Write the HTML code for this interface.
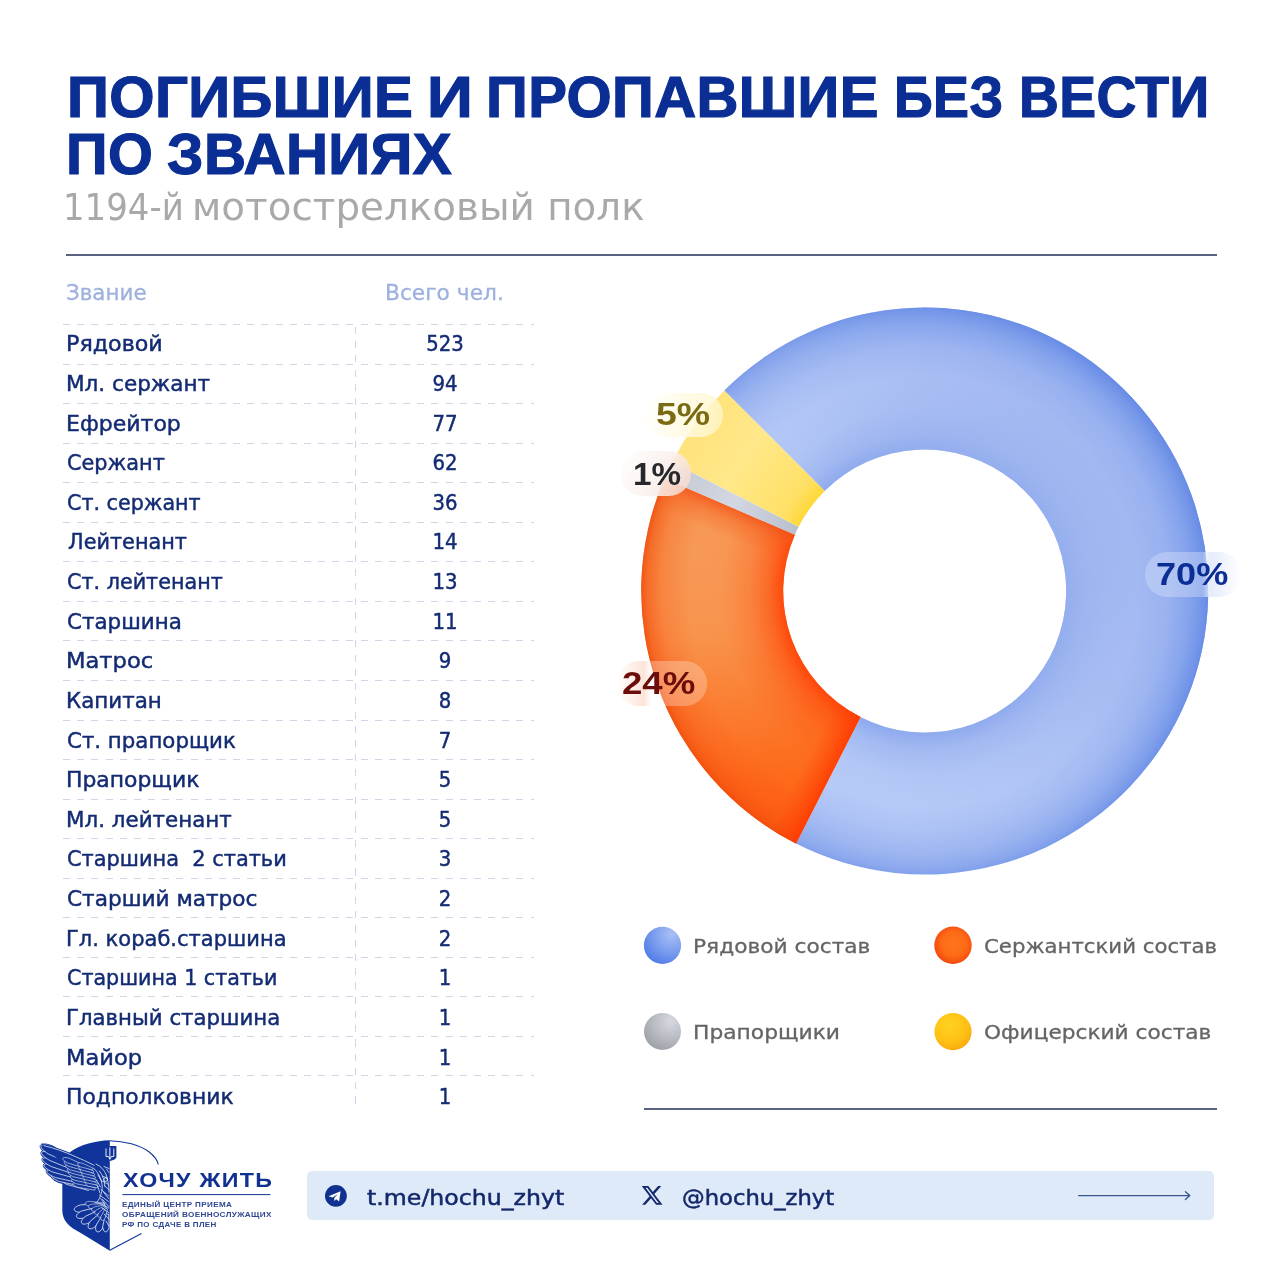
<!DOCTYPE html>
<html lang="ru"><head><meta charset="utf-8"><title>Погибшие и пропавшие без вести по званиях</title>
<style>
html,body{margin:0;padding:0;background:#fff}
h1,p{margin:0;padding:0;font-size:0;line-height:0;font-weight:normal}
body{width:1280px;height:1280px;position:relative;overflow:hidden;font-family:"Liberation Sans",sans-serif}
.t{position:absolute;white-space:nowrap;line-height:1;transform-origin:0 100%}
.dj{font-family:"DejaVu Sans","Liberation Sans",sans-serif}
.title{font-weight:bold;color:#0a2e93;font-size:57px;letter-spacing:0.4px;-webkit-text-stroke:1.2px #0a2e93}
.sub{color:#a9a9a9;font-size:37.6px;font-family:"DejaVu Sans","Liberation Sans",sans-serif;font-weight:normal}
.hr{position:absolute;height:1.7px;background:#5a6382}
.th{color:#9db1de;font-size:20.8px;-webkit-text-stroke:.3px #9db1de}
.rk,.nm{color:#132b73;font-size:21.3px;-webkit-text-stroke:.45px #132b73}
.nm{text-align:center;width:100px;transform-origin:50% 100%}
.dl{position:absolute;left:62.7px;width:471.5px;height:1px;background:repeating-linear-gradient(90deg,#cdd5e6 0,#cdd5e6 7px,transparent 7px,transparent 14.17px)}
.vl{position:absolute;left:355px;top:327px;height:783px;width:1px;background:repeating-linear-gradient(180deg,#cdd5e6 0,#cdd5e6 7px,transparent 7px,transparent 14.25px)}

.pill{position:absolute;border-radius:22px}
.pc{font-weight:bold;letter-spacing:0}
.lg{color:#646464;font-size:19.9px;-webkit-text-stroke:.3px #646464}

.bar{position:absolute;left:306.5px;top:1171.2px;width:907.8px;height:49.3px;border-radius:5px;background:#dfeaf8}
.brand{font-weight:bold;color:#10318f}
.tag{font-weight:bold;color:#2f4793;letter-spacing:.35px}
.soc{color:#14296b;-webkit-text-stroke:.5px #14296b}
</style></head>
<body>
<h1><span class="t title" style="left:66.94px;top:68.68px;transform:scaleX(1.0210)">ПОГИБШИЕ</span> <span class="t title" style="left:426.66px;top:68.68px;transform:scaleX(1.1181)">И</span> <span class="t title" style="left:485.95px;top:68.68px;transform:scaleX(1.0185)">ПРОПАВШИЕ</span> <span class="t title" style="left:894.38px;top:68.68px;transform:scaleX(0.9449)">БЕЗ</span> <span class="t title" style="left:1018.96px;top:68.68px;transform:scaleX(0.9685)">ВЕСТИ</span> <span class="t title" style="left:65.97px;top:126.38px;transform:scaleX(1.0124)">ПО</span> <span class="t title" style="left:167.0px;top:126.38px;transform:scaleX(1.0215)">ЗВАНИЯХ</span></h1>
<p><span class="t sub" style="left:62.83px;top:188.79px;transform:scaleX(0.9033)">1194-й</span> <span class="t sub" style="left:192.37px;top:188.79px;transform:scaleX(1.0336)">мотострелковый полк</span></p>
<div class="hr" style="left:66px;top:254px;width:1151px"></div>
<div class="t th dj" style="left:66.09px;top:283.40px;transform:scaleX(1.0306)">Звание</div>
<div class="t th dj" style="left:384.95px;top:283.40px;transform:scaleX(1.0444)">Всего чел.</div>
<div class="dl" style="top:324px"></div>
<div class="t rk dj" style="left:65.9px;top:333.28px;transform:scaleX(1.0420)">Рядовой</div>
<div class="t nm dj" style="left:394.9px;top:333.28px;transform:scaleX(0.925)">523</div>
<div class="dl" style="top:364px"></div>
<div class="t rk dj" style="left:65.92px;top:372.91px;transform:scaleX(1.0113)">Мл. сержант</div>
<div class="t nm dj" style="left:394.9px;top:372.91px;transform:scaleX(0.925)">94</div>
<div class="dl" style="top:403px"></div>
<div class="t rk dj" style="left:65.9px;top:412.54px;transform:scaleX(1.0339)">Ефрейтор</div>
<div class="t nm dj" style="left:394.9px;top:412.54px;transform:scaleX(0.925)">77</div>
<div class="dl" style="top:443px"></div>
<div class="t rk dj" style="left:66.9px;top:452.17px;transform:scaleX(0.9780)">Сержант</div>
<div class="t nm dj" style="left:394.9px;top:452.17px;transform:scaleX(0.925)">62</div>
<div class="dl" style="top:482px"></div>
<div class="t rk dj" style="left:66.83px;top:491.80px;transform:scaleX(0.9704)">Ст. сержант</div>
<div class="t nm dj" style="left:394.9px;top:491.80px;transform:scaleX(0.925)">36</div>
<div class="dl" style="top:522px"></div>
<div class="t rk dj" style="left:67.81px;top:531.43px;transform:scaleX(0.9771)">Лейтенант</div>
<div class="t nm dj" style="left:394.9px;top:531.43px;transform:scaleX(0.925)">14</div>
<div class="dl" style="top:561px"></div>
<div class="t rk dj" style="left:66.88px;top:571.06px;transform:scaleX(0.9722)">Ст. лейтенант</div>
<div class="t nm dj" style="left:394.9px;top:571.06px;transform:scaleX(0.925)">13</div>
<div class="dl" style="top:601px"></div>
<div class="t rk dj" style="left:66.92px;top:610.69px;transform:scaleX(1.0059)">Старшина</div>
<div class="t nm dj" style="left:394.9px;top:610.69px;transform:scaleX(0.925)">11</div>
<div class="dl" style="top:640px"></div>
<div class="t rk dj" style="left:65.85px;top:650.32px;transform:scaleX(1.0618)">Матрос</div>
<div class="t nm dj" style="left:394.9px;top:650.32px;transform:scaleX(0.925)">9</div>
<div class="dl" style="top:680px"></div>
<div class="t rk dj" style="left:65.96px;top:689.95px;transform:scaleX(1.0047)">Капитан</div>
<div class="t nm dj" style="left:394.9px;top:689.95px;transform:scaleX(0.925)">8</div>
<div class="dl" style="top:720px"></div>
<div class="t rk dj" style="left:66.87px;top:729.58px;transform:scaleX(1.0014)">Ст. прапорщик</div>
<div class="t nm dj" style="left:394.9px;top:729.58px;transform:scaleX(0.925)">7</div>
<div class="dl" style="top:759px"></div>
<div class="t rk dj" style="left:65.89px;top:769.21px;transform:scaleX(1.0279)">Прапорщик</div>
<div class="t nm dj" style="left:394.9px;top:769.21px;transform:scaleX(0.925)">5</div>
<div class="dl" style="top:799px"></div>
<div class="t rk dj" style="left:65.93px;top:808.84px;transform:scaleX(1.0055)">Мл. лейтенант</div>
<div class="t nm dj" style="left:394.9px;top:808.84px;transform:scaleX(0.925)">5</div>
<div class="dl" style="top:838px"></div>
<div class="t rk dj" style="left:66.88px;top:848.47px;transform:scaleX(0.9812)">Старшина&nbsp; 2 статьи</div>
<div class="t nm dj" style="left:394.9px;top:848.47px;transform:scaleX(0.925)">3</div>
<div class="dl" style="top:878px"></div>
<div class="t rk dj" style="left:66.88px;top:888.10px;transform:scaleX(1.0153)">Старший матрос</div>
<div class="t nm dj" style="left:394.9px;top:888.10px;transform:scaleX(0.925)">2</div>
<div class="dl" style="top:917px"></div>
<div class="t rk dj" style="left:65.91px;top:927.73px;transform:scaleX(0.9868)">Гл. кораб.старшина</div>
<div class="t nm dj" style="left:394.9px;top:927.73px;transform:scaleX(0.925)">2</div>
<div class="dl" style="top:957px"></div>
<div class="t rk dj" style="left:66.88px;top:967.36px;transform:scaleX(0.9689)">Старшина 1 статьи</div>
<div class="t nm dj" style="left:394.9px;top:967.36px;transform:scaleX(0.925)">1</div>
<div class="dl" style="top:996px"></div>
<div class="t rk dj" style="left:65.88px;top:1006.99px;transform:scaleX(0.9984)">Главный старшина</div>
<div class="t nm dj" style="left:394.9px;top:1006.99px;transform:scaleX(0.925)">1</div>
<div class="dl" style="top:1036px"></div>
<div class="t rk dj" style="left:66.02px;top:1046.62px;transform:scaleX(1.0583)">Майор</div>
<div class="t nm dj" style="left:394.9px;top:1046.62px;transform:scaleX(0.925)">1</div>
<div class="dl" style="top:1075px"></div>
<div class="t rk dj" style="left:66.0px;top:1086.25px;transform:scaleX(1.0256)">Подполковник</div>
<div class="t nm dj" style="left:394.9px;top:1086.25px;transform:scaleX(0.925)">1</div>
<div class="vl"></div>
<svg class="chart" width="1280" height="1280" viewBox="0 0 1280 1280" style="position:absolute;left:0;top:0">
<defs>
<radialGradient id="gb" gradientUnits="userSpaceOnUse" cx="924.7" cy="591.0" r="283.5">
<stop offset="0.4991" stop-color="#8eaaee"/><stop offset="0.5573" stop-color="#a3baf2"/><stop offset="0.6526" stop-color="#b3c7f6"/>
<stop offset="0.7584" stop-color="#b7caf7"/><stop offset="0.8466" stop-color="#adc2f5"/><stop offset="0.9312" stop-color="#9cb5f1"/><stop offset="0.9771" stop-color="#8eaaee"/><stop offset="1" stop-color="#82a1ec"/>
</radialGradient>
<radialGradient id="gbx" gradientUnits="userSpaceOnUse" cx="924.7" cy="591.0" r="283.5">
<stop offset="0.4991" stop-color="#97b0ee"/><stop offset="0.7531" stop-color="#9fb6f0"/><stop offset="0.8589" stop-color="#97b0ef"/><stop offset="0.9295" stop-color="#85a3ec"/><stop offset="0.9753" stop-color="#7395e8"/><stop offset="1" stop-color="#678be5"/>
</radialGradient>
<linearGradient id="mgrad" gradientUnits="userSpaceOnUse" x1="840" y1="700" x2="1190" y2="500">
<stop offset="0" stop-color="#000"/><stop offset=".25" stop-color="#2a2a2a"/><stop offset=".6" stop-color="#a8a8a8"/><stop offset=".85" stop-color="#ececec"/><stop offset="1" stop-color="#fff"/>
</linearGradient>
<mask id="mright" maskUnits="userSpaceOnUse" x="600" y="280" width="660" height="640"><rect x="600" y="280" width="660" height="640" fill="url(#mgrad)"/></mask>
<radialGradient id="go" gradientUnits="userSpaceOnUse" cx="690" cy="545" r="330">
<stop offset="0" stop-color="#f79957"/><stop offset=".25" stop-color="#f8944e"/><stop offset=".5" stop-color="#fa883c"/><stop offset=".72" stop-color="#fc7c2a"/><stop offset="1" stop-color="#fe7220"/>
</radialGradient>
<radialGradient id="goe" gradientUnits="userSpaceOnUse" cx="924.7" cy="591.0" r="283.5">
<stop offset="0.4991" stop-color="#ff4206" stop-opacity=".9"/><stop offset="0.5485" stop-color="#ff4608" stop-opacity=".55"/><stop offset="0.6190" stop-color="#ff4a0a" stop-opacity=".22"/><stop offset="0.7178" stop-color="#ff4a0a" stop-opacity="0"/>
<stop offset="0.8307" stop-color="#f8500e" stop-opacity="0"/><stop offset="0.9295" stop-color="#f8500e" stop-opacity=".26"/><stop offset="0.9788" stop-color="#f4500e" stop-opacity=".6"/><stop offset="1" stop-color="#f04a0a" stop-opacity=".85"/>
</radialGradient>
<linearGradient id="goc" gradientUnits="userSpaceOnUse" x1="828.5" y1="779.9" x2="802.7" y2="766.7">
<stop offset="0" stop-color="#ff3600" stop-opacity=".8"/><stop offset=".45" stop-color="#ff3c02" stop-opacity=".4"/><stop offset="1" stop-color="#ff4004" stop-opacity="0"/>
</linearGradient>
<linearGradient id="gos" gradientUnits="userSpaceOnUse" x1="730.1" y1="506.8" x2="718.2" y2="534.3">
<stop offset="0" stop-color="#f24e14" stop-opacity=".75"/><stop offset=".4" stop-color="#f4571a" stop-opacity=".35"/><stop offset="1" stop-color="#f4571a" stop-opacity="0"/>
</linearGradient>
<linearGradient id="gov" gradientUnits="userSpaceOnUse" x1="0" y1="640" x2="0" y2="850">
<stop offset="0" stop-color="#ff5a10" stop-opacity="0"/><stop offset="1" stop-color="#ff4c04" stop-opacity=".62"/>
</linearGradient>
<radialGradient id="gy" gradientUnits="userSpaceOnUse" cx="924.7" cy="591.0" r="283.5">
<stop offset="0.4991" stop-color="#ffd838"/><stop offset="0.5644" stop-color="#ffe066"/><stop offset="0.7937" stop-color="#ffe88a"/><stop offset="0.9242" stop-color="#ffe480"/><stop offset="1" stop-color="#ffe27a"/>
</radialGradient>
<radialGradient id="gg" gradientUnits="userSpaceOnUse" cx="924.7" cy="591.0" r="283.5">
<stop offset="0.4991" stop-color="#b9bfcc"/><stop offset="0.7407" stop-color="#d2d7e2"/><stop offset="1" stop-color="#c3c8d4"/>
</radialGradient>
<radialGradient id="lb" cx=".74" cy=".2" r=".98"><stop offset="0" stop-color="#a9c0f6"/><stop offset=".5" stop-color="#7a9cee"/><stop offset="1" stop-color="#4774e6"/></radialGradient>
<radialGradient id="lo" cx=".52" cy=".46" r=".56"><stop offset="0" stop-color="#ff761a"/><stop offset=".6" stop-color="#fd6a16"/><stop offset=".88" stop-color="#f5500f"/><stop offset="1" stop-color="#ec3f0c"/></radialGradient>
<radialGradient id="lg" cx=".72" cy=".22" r=".95"><stop offset="0" stop-color="#d6d9e1"/><stop offset=".55" stop-color="#b5b8bf"/><stop offset="1" stop-color="#97999f"/></radialGradient>
<radialGradient id="ly" cx=".4" cy=".3" r=".8"><stop offset="0" stop-color="#ffd21f"/><stop offset=".6" stop-color="#ffc015"/><stop offset="1" stop-color="#f7a20c"/></radialGradient>
</defs>
<path d="M724.24 390.54A283.5 283.5 0 1 1 795.99 843.60L860.46 717.08A141.5 141.5 0 1 0 824.64 490.94Z" fill="url(#gb)"/>
<path d="M724.24 390.54A283.5 283.5 0 1 1 795.99 843.60L860.46 717.08A141.5 141.5 0 1 0 824.64 490.94Z" fill="url(#gbx)" mask="url(#mright)"/>
<path d="M795.99 843.60A283.5 283.5 0 0 1 664.52 478.41L794.84 534.80A141.5 141.5 0 0 0 860.46 717.08Z" fill="url(#go)"/>
<path d="M795.99 843.60A283.5 283.5 0 0 1 664.52 478.41L794.84 534.80A141.5 141.5 0 0 0 860.46 717.08Z" fill="url(#gov)"/>
<path d="M795.99 843.60A283.5 283.5 0 0 1 664.52 478.41L794.84 534.80A141.5 141.5 0 0 0 860.46 717.08Z" fill="url(#goe)"/>
<path d="M795.99 843.60A283.5 283.5 0 0 1 664.52 478.41L794.84 534.80A141.5 141.5 0 0 0 860.46 717.08Z" fill="url(#goc)"/>
<path d="M795.99 843.60A283.5 283.5 0 0 1 664.52 478.41L794.84 534.80A141.5 141.5 0 0 0 860.46 717.08Z" fill="url(#gos)"/>
<path d="M664.52 478.41A283.5 283.5 0 0 1 672.10 462.29L798.62 526.76A141.5 141.5 0 0 0 794.84 534.80Z" fill="url(#gg)"/>
<path d="M672.10 462.29A283.5 283.5 0 0 1 724.24 390.54L824.64 490.94A141.5 141.5 0 0 0 798.62 526.76Z" fill="url(#gy)"/>
<circle cx="662.5" cy="945.4" r="18.6" fill="url(#lb)"/>
<circle cx="953" cy="945.3" r="18.7" fill="url(#lo)"/>
<circle cx="662.5" cy="1031.5" r="18.5" fill="url(#lg)"/>
<circle cx="953" cy="1031.6" r="18.6" fill="url(#ly)"/>
</svg>
<div class="pill" style="left:1145px;top:552px;width:96px;height:45px;background:linear-gradient(90deg,rgba(255,255,255,.22) 0%,rgba(255,255,255,.30) 60%,rgba(226,233,251,.9) 68%,rgba(255,255,255,0) 100%)"></div>
<div class="t pc" style="left:1156.44px;top:559.44px;font-size:31.4px;color:#0a2e93;transform:scaleX(1.1496)">70%</div>
<div class="pill" style="left:617px;top:661px;width:90px;height:45px;background:linear-gradient(90deg,rgba(255,255,255,0) 0%,rgba(252,226,214,.95) 30%,rgba(255,255,255,.30) 38%,rgba(255,255,255,.25) 100%)"></div>
<div class="t pc" style="left:621.82px;top:668.24px;font-size:31.4px;color:#6b0d08;transform:scaleX(1.1666)">24%</div>
<div class="pill" style="left:644px;top:393px;width:79px;height:44px;background:linear-gradient(100deg,rgba(255,255,255,0) 0%,rgba(255,250,225,.9) 55%,rgba(255,246,200,.75) 100%)"></div>
<div class="t pc" style="left:656.17px;top:399.17px;font-size:31px;color:#7a6a12;transform:scaleX(1.2069)">5%</div>
<div class="pill" style="left:621px;top:451px;width:70px;height:45px;background:linear-gradient(120deg,rgba(255,255,255,0) 0%,rgba(250,240,236,.9) 55%,rgba(245,214,200,.85) 100%)"></div>
<div class="t pc" style="left:633.09px;top:458.57px;font-size:31px;color:#26282c;transform:scaleX(1.0723)">1%</div>
<div class="t dj lg" style="left:693.1px;top:936.56px;transform:scaleX(1.091)">Рядовой состав</div>
<div class="t dj lg" style="left:983.99px;top:936.56px;transform:scaleX(1.0685)">Сержантский состав</div>
<div class="t dj lg" style="left:693.11px;top:1023.16px;transform:scaleX(1.0953)">Прапорщики</div>
<div class="t dj lg" style="left:983.99px;top:1023.16px;transform:scaleX(1.0897)">Офицерский состав</div>
<div class="hr" style="left:644px;top:1108.2px;width:573px"></div>

<div class="bar"></div>
<svg class="logo" width="1280" height="1280" viewBox="0 0 1280 1280" style="position:absolute;left:0;top:0"><path d="M109.8 1140.2C96 1140.6 80 1144.6 70.6 1151.8C64.5 1156.6 62.3 1163 62.3 1172L62.3 1210C62.3 1220.5 68.5 1226.5 80.8 1233L109.8 1250.8Z" fill="#10349a"/>
<path d="M109.8 1140.7C124 1141 140 1144.8 149.2 1152C154.6 1156.2 157.5 1160.5 158.3 1164.5" fill="none" stroke="#10349a" stroke-width="1.1"/>
<path d="M109.8 1250.3L141.5 1233.5" fill="none" stroke="#10349a" stroke-width="1.1"/>
<path d="M109.5 1146L116.4 1146L116.4 1156.5C116.4 1159 113.5 1160.3 109.5 1161Z" fill="#10349a"/>
<path d="M106 1148.5V1156.5H108.4L109.9 1159.3L111.4 1156.5H113.8V1148.5M109.9 1147.6V1159" fill="none" stroke="#fff" stroke-width="0.9"/>
<path d="M90.9 1186.7L69.7 1175.9C58.3 1173.1 55.7 1180.1 66.1 1185.5L89.1 1191.3Z" fill="#10349a" stroke="#10349a" stroke-width="0.9" stroke-linejoin="round"/>
<path d="M89.7 1183.6L61.9 1172.8C48.5 1170.4 46.4 1177.5 59.1 1182.7L88.3 1188.4Z" fill="#10349a" stroke="#10349a" stroke-width="0.9" stroke-linejoin="round"/>
<path d="M88.7 1180.6L58.2 1168.9C43.8 1166.2 41.7 1173.3 55.3 1178.8L87.3 1185.4Z" fill="#10349a" stroke="#10349a" stroke-width="0.9" stroke-linejoin="round"/>
<path d="M87.3 1177.2L55.8 1163.6C41.1 1160.1 38.7 1167.1 52.5 1173.3L85.7 1181.8Z" fill="#10349a" stroke="#10349a" stroke-width="0.9" stroke-linejoin="round"/>
<path d="M85.9 1173.7L54.6 1158.2C39.9 1153.8 37.1 1160.6 50.8 1167.7L84.1 1178.3Z" fill="#10349a" stroke="#10349a" stroke-width="0.9" stroke-linejoin="round"/>
<path d="M84.1 1169.8L53.6 1152.4C39.2 1147.1 36.0 1153.7 49.2 1161.6L81.9 1174.2Z" fill="#10349a" stroke="#10349a" stroke-width="0.9" stroke-linejoin="round"/>
<path d="M81.1 1163.8L52.7 1146.0C38.8 1140.4 35.4 1147.0 47.9 1155.1L78.9 1168.2Z" fill="#10349a" stroke="#10349a" stroke-width="0.9" stroke-linejoin="round"/>
<path d="M90.7 1187.3L69.2 1177.0C58.9 1174.3 56.9 1179.5 66.5 1184.3L89.3 1190.7Z" fill="#10349a" stroke="#fff" stroke-width="0.7" stroke-linejoin="round"/>
<path d="M89.5 1184.2L61.6 1174.0C49.1 1171.5 47.5 1176.9 59.4 1181.5L88.5 1187.8Z" fill="#10349a" stroke="#fff" stroke-width="0.7" stroke-linejoin="round"/>
<path d="M88.5 1181.2L57.8 1170.1C44.4 1167.3 42.8 1172.7 55.6 1177.6L87.5 1184.8Z" fill="#10349a" stroke="#fff" stroke-width="0.7" stroke-linejoin="round"/>
<path d="M87.1 1177.7L55.4 1164.8C41.7 1161.3 39.9 1166.5 52.9 1172.1L85.9 1181.3Z" fill="#10349a" stroke="#fff" stroke-width="0.7" stroke-linejoin="round"/>
<path d="M85.7 1174.3L54.1 1159.4C40.4 1155.0 38.3 1160.1 51.2 1166.5L84.3 1177.7Z" fill="#10349a" stroke="#fff" stroke-width="0.7" stroke-linejoin="round"/>
<path d="M83.8 1170.3L53.1 1153.5C39.6 1148.3 37.2 1153.3 49.8 1160.5L82.2 1173.7Z" fill="#10349a" stroke="#fff" stroke-width="0.7" stroke-linejoin="round"/>
<path d="M80.9 1164.3L52.1 1147.1C39.2 1141.6 36.6 1146.6 48.5 1154.0L79.1 1167.7Z" fill="#10349a" stroke="#fff" stroke-width="0.7" stroke-linejoin="round"/>
<path d="M41 1143.6C52 1146 63 1150 72 1153.5C80 1156.6 88 1160 96 1163.5L100 1170L98 1188L90 1192L80 1180Z" fill="#10349a"/>
<path d="M43.5 1145.6C54 1148 65 1152 74 1156C81 1159 88 1162 94.5 1165.5" fill="none" stroke="#fff" stroke-width="0.7"/>
<path d="M95.3 1187.8L79.1 1182.4C71.7 1181.3 70.8 1184.8 77.9 1187.3L94.7 1190.2Z" fill="#10349a" stroke="#f2f5fd" stroke-width="0.6" stroke-linejoin="round"/>
<path d="M94.0 1184.7L77.7 1179.0C70.2 1177.7 69.3 1181.2 76.4 1183.8L93.4 1187.1Z" fill="#10349a" stroke="#f2f5fd" stroke-width="0.6" stroke-linejoin="round"/>
<path d="M92.7 1181.6L76.3 1175.5C68.8 1174.1 67.8 1177.5 74.9 1180.3L92.1 1184.0Z" fill="#10349a" stroke="#f2f5fd" stroke-width="0.6" stroke-linejoin="round"/>
<path d="M91.5 1178.6L74.9 1172.1C67.3 1170.4 66.2 1173.9 73.4 1176.8L90.7 1180.8Z" fill="#10349a" stroke="#f2f5fd" stroke-width="0.6" stroke-linejoin="round"/>
<path d="M90.2 1175.5L73.5 1168.6C65.9 1166.8 64.7 1170.2 71.9 1173.3L89.4 1177.7Z" fill="#10349a" stroke="#f2f5fd" stroke-width="0.6" stroke-linejoin="round"/>
<path d="M88.9 1172.4L72.1 1165.1C64.4 1163.2 63.2 1166.6 70.4 1169.9L88.1 1174.6Z" fill="#10349a" stroke="#f2f5fd" stroke-width="0.6" stroke-linejoin="round"/>
<path d="M87.6 1169.3L70.7 1161.7C62.9 1159.6 61.7 1163.0 68.9 1166.4L86.8 1171.5Z" fill="#10349a" stroke="#f2f5fd" stroke-width="0.6" stroke-linejoin="round"/>
<path d="M86.3 1166.2L69.2 1158.2C61.5 1156.0 60.2 1159.3 67.5 1162.9L85.5 1168.4Z" fill="#10349a" stroke="#f2f5fd" stroke-width="0.6" stroke-linejoin="round"/>
<path d="M98.3 1186.1L89.6 1182.5C85.0 1181.7 84.2 1184.5 88.4 1186.3L97.7 1187.9Z" fill="#10349a" stroke="#f2f5fd" stroke-width="0.55" stroke-linejoin="round"/>
<path d="M97.4 1183.1L88.3 1179.2C83.6 1178.4 82.8 1181.2 87.1 1183.1L96.8 1184.9Z" fill="#10349a" stroke="#f2f5fd" stroke-width="0.55" stroke-linejoin="round"/>
<path d="M96.5 1180.1L87.1 1176.0C82.3 1175.1 81.4 1177.8 85.8 1179.8L95.9 1181.9Z" fill="#10349a" stroke="#f2f5fd" stroke-width="0.55" stroke-linejoin="round"/>
<path d="M95.6 1177.1L85.8 1172.8C80.9 1171.8 80.0 1174.5 84.6 1176.6L95.0 1178.9Z" fill="#10349a" stroke="#f2f5fd" stroke-width="0.55" stroke-linejoin="round"/>
<path d="M94.7 1174.1L84.5 1169.6C79.5 1168.5 78.6 1171.2 83.3 1173.4L94.1 1175.9Z" fill="#10349a" stroke="#f2f5fd" stroke-width="0.55" stroke-linejoin="round"/>
<path d="M93.8 1171.1L83.3 1166.4C78.1 1165.2 77.2 1167.9 82.0 1170.1L93.2 1172.9Z" fill="#10349a" stroke="#f2f5fd" stroke-width="0.55" stroke-linejoin="round"/>
<path d="M92.9 1168.1L82.0 1163.1C76.7 1161.9 75.8 1164.6 80.7 1166.9L92.3 1169.9Z" fill="#10349a" stroke="#f2f5fd" stroke-width="0.55" stroke-linejoin="round"/>
<path d="M100.7 1203.7L80.6 1204.9C71.5 1207.3 72.3 1212.7 81.8 1212.3L101.3 1207.3Z" fill="#10349a" stroke="#fff" stroke-width="0.75" stroke-linejoin="round"/>
<path d="M101.4 1206.3L81.9 1210.9C73.4 1214.9 75.1 1220.0 84.3 1218.0L102.6 1209.7Z" fill="#10349a" stroke="#fff" stroke-width="0.75" stroke-linejoin="round"/>
<path d="M102.1 1208.5L85.3 1216.4C78.3 1221.9 81.1 1226.5 89.2 1222.8L103.9 1211.5Z" fill="#10349a" stroke="#fff" stroke-width="0.75" stroke-linejoin="round"/>
<path d="M102.7 1210.8L90.2 1221.3C85.4 1227.9 89.3 1231.6 95.6 1226.4L105.3 1213.2Z" fill="#10349a" stroke="#fff" stroke-width="0.75" stroke-linejoin="round"/>
<path d="M103.9 1212.8L96.1 1225.1C93.9 1232.3 98.7 1234.5 102.7 1228.1L107.1 1214.2Z" fill="#10349a" stroke="#fff" stroke-width="0.75" stroke-linejoin="round"/>
<path d="M105.4 1213.9L102.7 1226.6C103.1 1233.3 107.7 1233.7 109.2 1227.2L108.6 1214.1Z" fill="#10349a" stroke="#fff" stroke-width="0.75" stroke-linejoin="round"/>
<path d="M104.0 1202.9L89.8 1201.4C83.4 1201.8 83.3 1205.1 89.7 1205.9L104.0 1205.1Z" fill="#10349a" stroke="#f2f5fd" stroke-width="0.55" stroke-linejoin="round"/>
<path d="M104.4 1203.8L92.2 1204.1C86.6 1205.4 87.0 1208.6 92.7 1208.6L104.6 1206.0Z" fill="#10349a" stroke="#f2f5fd" stroke-width="0.55" stroke-linejoin="round"/>
<path d="M104.7 1204.8L94.4 1206.9C89.8 1209.1 90.8 1212.1 95.8 1211.2L105.3 1206.8Z" fill="#10349a" stroke="#f2f5fd" stroke-width="0.55" stroke-linejoin="round"/>
<path d="M104.9 1205.8L96.5 1209.8C93.0 1212.9 94.7 1215.6 99.0 1213.6L106.1 1207.6Z" fill="#10349a" stroke="#f2f5fd" stroke-width="0.55" stroke-linejoin="round"/>
<path d="M105.2 1206.9L98.7 1213.0C96.3 1216.9 98.8 1219.0 102.2 1215.8L106.8 1208.3Z" fill="#10349a" stroke="#f2f5fd" stroke-width="0.55" stroke-linejoin="round"/>
<path d="M105.5 1208.1L101.0 1216.3C99.9 1220.9 102.9 1222.1 105.2 1217.9L107.5 1208.9Z" fill="#10349a" stroke="#f2f5fd" stroke-width="0.55" stroke-linejoin="round"/>
<path d="M96 1164C100.5 1166 104.5 1170 106.3 1175C108 1180 108.8 1186 109 1192M93.5 1168C98 1172 101 1178 102 1184C103 1190 101 1197 97 1202M99.5 1171C103 1175.5 104.6 1181 104.9 1186.5M104.8 1186L108.9 1189.6M101 1189.5L108.6 1195.8M99.5 1195L108.6 1201.6M102.5 1199.5L108.9 1206.6M95 1202.5C99 1203.2 104 1204.6 108.6 1208M103.3 1176.3L107.6 1178.4M102 1181L108.2 1184.2M98 1175L101.5 1181M96.5 1180L100.5 1187M97.5 1186L100 1193M103.8 1192.5L108.7 1198.6M100.5 1198.5L105 1204M106.5 1169L108.9 1172.5M104 1166.5L108.9 1168.5M102 1208L108.7 1212.5M104 1214L108.8 1219M106 1221L108.8 1226" fill="none" stroke="#eef2fc" stroke-width="0.75" stroke-linecap="round"/>
<circle cx="105.7" cy="1179.6" r="1.8" fill="none" stroke="#fff" stroke-width="0.75"/>
<rect x="122.4" y="1194.1" width="148" height="1" fill="#10349a"/>
<circle cx="335.9" cy="1195.9" r="10.9" fill="#10318f"/><path d="M328.6 1196.2L340.6 1191.2L339.1 1201.5L336.2 1199.3L334.5 1201L334.2 1198L338 1194L332.6 1197.6Z" fill="#fff"/>
<g transform="translate(640.5 1183.8) scale(0.965)"><path d="M18.244 2.25h3.308l-7.227 8.26 8.502 11.24H16.17l-5.214-6.817L4.99 21.75H1.68l7.73-8.835L1.254 2.25H8.08l4.713 6.231zm-1.161 17.52h1.833L7.084 4.126H5.117z" fill="#14296b"/></g>
<path d="M1078.6 1195.6H1189.6M1185.4 1191.7L1189.8 1195.6L1185.4 1199.5" fill="none" stroke="#38558f" stroke-width="1.3" stroke-linecap="round" stroke-linejoin="round"/>
</svg>
<div class="t brand" style="left:122.8px;top:1169.88px;font-size:20px;transform:scaleX(1.1613);letter-spacing:1.1px">ХОЧУ ЖИТЬ</div>
<div class="t tag" style="left:121.6px;top:1200.55px;font-size:8.1px;transform:scaleX(0.9993);">ЕДИНЫЙ ЦЕНТР ПРИЕМА</div>
<div class="t tag" style="left:121.6px;top:1210.65px;font-size:8.1px;transform:scaleX(1.0068);">ОБРАЩЕНИЙ ВОЕННОСЛУЖАЩИХ</div>
<div class="t tag" style="left:121.6px;top:1220.75px;font-size:8.1px;transform:scaleX(0.9853);">РФ ПО СДАЧЕ В ПЛЕН</div>
<div class="t soc dj" style="left:367.2px;top:1186.60px;font-size:21.4px;transform:scaleX(1.1056);">t.me/hochu_zhyt</div>
<div class="t soc dj" style="left:681.54px;top:1186.60px;font-size:21.4px;transform:scaleX(1.0607);">@hochu_zhyt</div>

</body></html>
